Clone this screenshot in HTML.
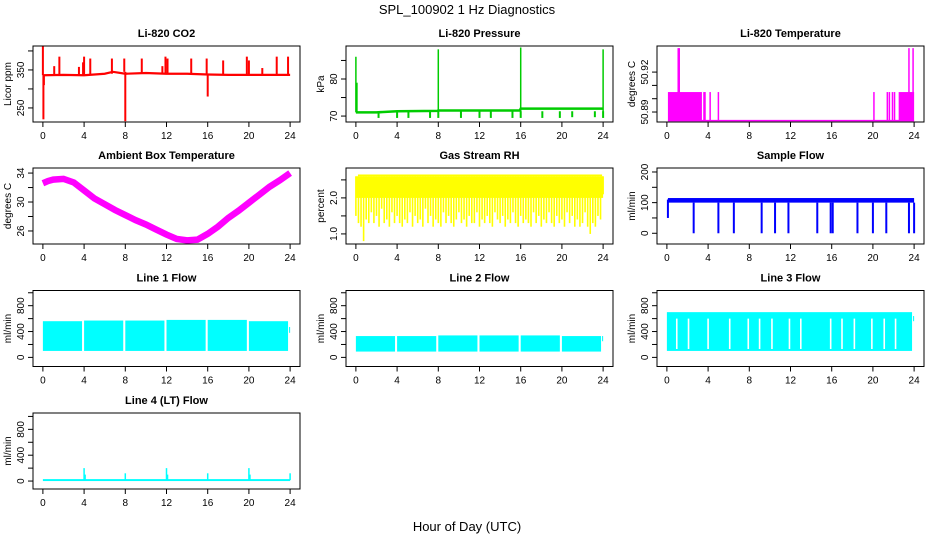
<!DOCTYPE html>
<html><head><meta charset="utf-8">
<style>
html,body{margin:0;padding:0;background:#fff;}
svg{display:block;font-family:"Liberation Sans",Arial,sans-serif;}
</style></head>
<body>
<svg id="c" width="936" height="540" viewBox="0 0 936 540">
<text x="467" y="14" text-anchor="middle" font-size="13">SPL_100902  1 Hz Diagnostics</text>
<text x="467" y="531" text-anchor="middle" font-size="13">Hour of Day (UTC)</text>
</svg>
<script>
// ---- data ----
const xTicks = [0,4,8,12,16,20,24];
// CO2
const co2BaseHours = [0,2,4,6,6.8,8,10,12,14,16,18,20,22,24];
const co2BaseVals = [336,337,336,340,345,340,342,340,340,338,337,337,337,337];
const co2SpikeHours = [0,0.05,0.1,1.1,1.6,3.5,3.9,4,4.6,6.7,7.9,8,9.6,11.6,11.9,12.1,14.4,15.9,16,17.5,19.8,20,21.3,22.7,23.8];
const co2SpikeVals = [415,220,310,360,385,358,370,385,380,380,380,215,380,360,385,380,380,380,280,375,385,375,355,385,385];
// Pressure
const presBaseHours = [0,2,4,7.9,8,15.9,16,24];
const presBaseVals = [71,71,71.3,71.4,71.5,71.5,72,72];
const presSpikeHours = [0,0.1,8,16,24];
const presSpikeVals = [86,79,88,88.5,88];
const presDipHours = [2.2,4,5.1,7.2,8,10.2,12,13.1,15.2,16,18.1,19.8,21,23.2,24];
const presDipVals = [69.5,69.5,69.5,69.5,69.5,69.5,69.5,69.5,69.5,69.5,69.5,69.5,69.7,69.7,69.5];
// Li-820 temperature
const tempBase = 50.8835;
const tempBlocks = [[0.1,3.4],[22.5,24]];
const tempBlockTop = 50.905;
const tempLineHours = [3.6,3.7,4.2,5.0,20.1,21.4,21.6,21.9,22.1];
const tempSpikeHours = [1.1,1.2,23.5,23.9];
const tempSpikeVal = 50.938;
// Ambient box temperature
const ambHours = [0,0.5,1,2,3,4,5,6,7,8,9,10,11,12,13,14,15,16,17,18,19,20,21,22,23,24];
const ambVals = [32.6,32.9,33.1,33.2,32.7,31.6,30.5,29.7,28.9,28.2,27.5,26.9,26.2,25.5,24.9,24.7,24.8,25.6,26.6,27.8,28.8,29.9,31.0,32.1,33.0,34.0];
// Gas stream RH
const rhTop = 2.6;
const rhSolidLow = 2.0;
const rhLows = [1.5,1.3,1.2,0.8,1.4,1.3,1.6,1.3,1.5,1.2,1.7,1.3,1.4,1.2,1.6,1.3,1.5,1.3,1.2,1.4,1.3,1.6,1.2,1.5,1.3,1.4,1.2,1.7,1.3,1.5,1.2,1.4,1.3,1.2,1.6,1.3,1.5,1.3,1.2,1.4,1.6,1.3,1.4,1.2,1.5,1.3,1.3,1.6,1.2,1.4,1.3,1.5,1.3,1.2,1.6,1.4,1.3,1.5,1.2,1.4,1.3,1.6,1.3,1.2,1.5,1.3,1.4,1.3,1.2,1.6,1.3,1.5,1.2,1.4,1.3,1.6,1.3,1.2,1.5,1.3,1.4,1.2,1.6,1.3,1.5,1.2,1.4,1.2,1.3,1.6,1.2,1.0,1.3,1.2,1.5,1.4,2.1];
// Sample flow
const sfLow = 100, sfHigh = 115;
const sfDipHours = [2.6,5,6.5,9.2,10.5,11.8,14.6,15.9,16.1,18.5,20,21.3,23.5,24];
// Line flows: [start,end,low,high]
const l1Segs = [[0,3.8,100,560],[4,7.8,100,570],[8,11.8,100,570],[12,15.8,100,580],[16,19.8,100,580],[20,23.8,100,560],[23.9,24,380,470]];
const l2Segs = [[0,3.8,90,330],[4,7.8,90,330],[8,11.8,90,340],[12,15.8,90,340],[16,19.8,90,340],[20,23.8,90,330],[23.9,24,250,330]];
const l3Segs = [[0,23.8,100,700],[23.9,24,560,640]];
const l3GapHours = [0.96,2.1,4,6.1,7.9,9,10.2,11.9,13,15.9,17,18.2,19.9,21.1,22.2];
// Line 4
const l4Base = 15;
const l4SpikeHours = [4,4.1,8,12,12.1,16,20,20.1,24];
const l4SpikeVals = [200,100,120,200,100,120,200,100,120];

// ---- drawing ----
const svg = document.getElementById('c');
const NS = 'http://www.w3.org/2000/svg';
const colL = [33,346,657], rowT = [46,168,290.5,413], W = 267, H = 76;
function mk(tag, attrs, parent){ const e=document.createElementNS(NS,tag); for(const k in attrs) e.setAttribute(k,attrs[k]); (parent||svg).appendChild(e); return e; }

function panel(name, col, row, title, ylab, ymin, ymax, yt, yl){
  const L=colL[col], T=rowT[row];
  const g = mk('g',{});
  
  
  const xs = h => L + W*((h+0.96)/25.92);
  const ys = v => T + H - H*((v-ymin)/(ymax-ymin));
  const plot = mk('g',{},g);
  
  
  const clip = mk('clipPath',{id:'cl'+name},g);
  mk('rect',{x:L,y:T,width:W,height:H},clip);
  plot.setAttribute('clip-path','url(#cl'+name+')');
  const frame = mk('rect',{x:L,y:T,width:W,height:H,fill:'none',stroke:'#000','stroke-width':1},g);
  
  
  const tt = mk('text',{x:L+W/2,y:T-9,'text-anchor':'middle','font-size':11,'font-weight':'bold'},g);
  tt.textContent = title;
  
  
  const xa = mk('g',{},g);
  
  
  mk('line',{x1:xs(0),x2:xs(24),y1:T+H,y2:T+H,stroke:'#000'},xa);
  xTicks.forEach(h=>{
    mk('line',{x1:xs(h),x2:xs(h),y1:T+H,y2:T+H+5,stroke:'#000'},xa);
    const t=mk('text',{x:xs(h),y:T+H+17,'text-anchor':'middle','font-size':10},xa);
    t.textContent=h;
  });
  const ya = mk('g',{},g);
  
  
  yt.forEach((v,i)=>{
    mk('line',{x1:L,x2:L-5,y1:ys(v),y2:ys(v),stroke:'#000'},ya);
    if(yl[i]!==''){
      const t=mk('text',{x:L-9,y:ys(v),'text-anchor':'middle','font-size':10,transform:`rotate(-90 ${L-9} ${ys(v)})`},ya);
      t.textContent=yl[i];
    }
  });
  mk('line',{x1:L,x2:L,y1:ys(yt[0]),y2:ys(yt[yt.length-1]),stroke:'#000'},ya);
  const yy = T+H/2, yx = L-22;
  const lt = mk('text',{x:yx,y:yy,'text-anchor':'middle','font-size':10,transform:`rotate(-90 ${yx} ${yy})`},g);
  lt.textContent = ylab;
  
  
  return {xs,ys,g:plot};
}
function vline(p,h,v1,v2,col,w){ return mk('line',{x1:p.xs(h),x2:p.xs(h),y1:p.ys(v1),y2:p.ys(v2),stroke:col,'stroke-width':w||1.5},p.g); }
function poly(p,hs,vs,col,w){ return mk('polyline',{points:hs.map((h,i)=>p.xs(h)+','+p.ys(vs[i])).join(' '),fill:'none',stroke:col,'stroke-width':w},p.g); }
function band(p,a,b,lo,hi,col){ return mk('rect',{x:p.xs(a),y:p.ys(hi),width:p.xs(b)-p.xs(a),height:p.ys(lo)-p.ys(hi),fill:col},p.g); }

// CO2
let p = panel('co2',0,0,'Li-820 CO2','Licor ppm',213,413,[250,300,350,400],['250','','350','']);
co2SpikeHours.forEach((h,i)=>{
  let j=0; while(j<co2BaseHours.length-2 && co2BaseHours[j+1]<h) j++;
  vline(p,h,co2BaseVals[j],co2SpikeVals[i],'#f00',2);
});
poly(p,co2BaseHours,co2BaseVals,'#f00',2.2);

// Pressure
p = panel('pressure',1,0,'Li-820 Pressure','kPa',68.4,88.9,[70,75,80,85],['70','','80','']);
poly(p,presBaseHours,presBaseVals,'#0c0',2.5);
presSpikeHours.forEach((h,i)=>vline(p,h,71,presSpikeVals[i],'#0c0',1.5));
presDipHours.forEach((h,i)=>vline(p,h,71.3,presDipVals[i],'#0c0',2));

// Li-820 Temperature
p = panel('li820-temp',2,0,'Li-820 Temperature','degrees C',50.8825,50.9396,[50.89,50.90,50.91,50.92],['50.89','','','50.92']);
tempBlocks.forEach(b=>band(p,b[0],b[1],tempBase,tempBlockTop,'#f0f'));
tempLineHours.forEach(h=>vline(p,h,tempBase,tempBlockTop,'#f0f',1.5));
tempSpikeHours.forEach(h=>vline(p,h,tempBase,tempSpikeVal,'#f0f',1.5));
poly(p,[0.1,24],[tempBase,tempBase],'#f0f',1.5);

// Ambient
p = panel('ambient-temp',0,1,'Ambient Box Temperature','degrees C',24.2,34.7,[26,28,30,32,34],['26','','30','','34']);
poly(p,ambHours,ambVals,'#f0f',6.5);

// RH
p = panel('gas-rh',1,1,'Gas Stream RH','percent',0.72,2.83,[1.0,1.5,2.0,2.5],['1.0','','2.0','']);
rhLows.forEach((v,i)=>vline(p,i*0.25,v,rhTop,'#ff0',1.6));
band(p,0,24,rhSolidLow,rhTop,'#ff0');
band(p,0.2,23.9,rhTop,2.65,'#ff0');

// Sample flow
p = panel('sample-flow',2,1,'Sample Flow','ml/min',-35,213,[0,50,100,150,200],['0','','100','','200']);
band(p,0.1,24,sfLow,sfHigh,'#00f');
vline(p,0.1,50,110,'#00f',2);
sfDipHours.forEach(h=>vline(p,h,0,sfLow,'#00f',2));

// Line flows
const ft=[0,200,400,600,800,1000], fl=['0','','400','','800',''];
p = panel('line1-flow',0,2,'Line 1 Flow','ml/min',-141,1035,ft,fl);
l1Segs.forEach(s=>band(p,s[0],s[1],s[2],s[3],'#0ff'));
p = panel('line2-flow',1,2,'Line 2 Flow','ml/min',-141,1035,ft,fl);
l2Segs.forEach(s=>band(p,s[0],s[1],s[2],s[3],'#0ff'));
p = panel('line3-flow',2,2,'Line 3 Flow','ml/min',-141,1035,ft,fl);
l3Segs.forEach(s=>band(p,s[0],s[1],s[2],s[3],'#0ff'));
l3GapHours.forEach(h=>vline(p,h,130,600,'#fff',1.6));
p = panel('line4-flow',0,3,'Line 4 (LT) Flow','ml/min',-123,1053,ft,fl);
band(p,0,24,0,l4Base+15,'#0ff');
l4SpikeHours.forEach((h,i)=>vline(p,h,l4Base,l4SpikeVals[i],'#0ff',1.5));
</script>
</body></html>
